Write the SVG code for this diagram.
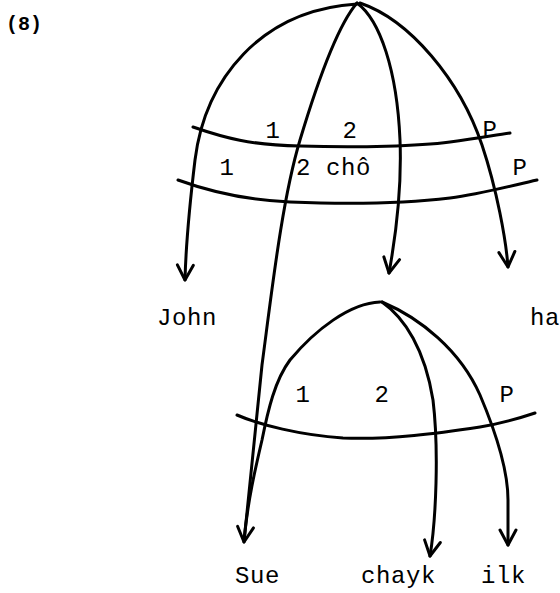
<svg xmlns="http://www.w3.org/2000/svg" width="560" height="593" viewBox="0 0 560 593">
<style>
.c{fill:none;stroke:#000;stroke-width:3;stroke-linecap:round;stroke-linejoin:round}
.t{font-family:"Liberation Mono","DejaVu Sans Mono",monospace;font-size:24px;letter-spacing:0.6px;fill:#000}
.n{font-family:"Liberation Mono","DejaVu Sans Mono",monospace;font-size:20px;font-weight:bold;fill:#000}
</style>
<defs>
<marker id="ah" markerUnits="userSpaceOnUse" viewBox="-16 -10 18 20" refX="0" refY="0" markerWidth="18" markerHeight="20" orient="auto" overflow="visible">
<path d="M-15,-8 L0,0 L-15,8" fill="none" stroke="#000" stroke-width="3" stroke-linecap="round" stroke-linejoin="round"/>
</marker>
</defs>
<rect width="560" height="593" fill="#fff"/>
<text class="n" x="6" y="30">(8)</text>
<g id="connectors">
<path class="c" marker-end="url(#ah)" d="M357,4 C260,10 205,80 195,160 C192,185 186,240 185,280"/>
<path class="c" marker-end="url(#ah)" d="M357,3 C338,25 318,80 300,140 S272,290 262,365 L244,542"/>
<path class="c" marker-end="url(#ah)" d="M357,3 C380,20 397,70 400,140 C402,190 395,240 389,273"/>
<path class="c" marker-end="url(#ah)" d="M360,3 C410,20 460,80 482,145 C497,190 506,240 508,267"/>
<path class="c" d="M193,127 C225,138 250,145 300,146 C360,148 420,146 450,142 C480,138 495,135 510,133"/>
<path class="c" d="M178,180 C200,188 240,200 290,202 C340,204 400,204 450,198 C480,194 510,186 537,180"/>
<path class="c" d="M380,302 C350,303 315,330 290,360 C275,380 268,410 262,440 C255,470 248,500 244,540"/>
<path class="c" marker-end="url(#ah)" d="M382,302 C405,318 425,350 433,400 C439,450 436,520 430,556"/>
<path class="c" marker-end="url(#ah)" d="M382,302 C420,318 460,350 480,395 C497,435 508,470 508,500 L508,545"/>
<path class="c" d="M237,415 C260,425 300,435 343,438 C390,440 440,433 480,427 C505,423 520,418 535,413"/>
</g>
<g id="labels">
<text class="t" x="265.5" y="138">1</text>
<text class="t" x="342.5" y="138">2</text>
<text class="t" x="482.5" y="137">P</text>
<text class="t" x="219.5" y="175">1</text>
<text class="t" x="296" y="175">2 chô</text>
<text class="t" x="512.5" y="175">P</text>
<text class="t" x="295.5" y="402">1</text>
<text class="t" x="374.5" y="402">2</text>
<text class="t" x="499.5" y="402">P</text>
</g>
<g id="node-john"><text class="t" x="157" y="325">John</text></g>
<g id="node-ha"><text class="t" x="530" y="325">ha</text></g>
<g id="node-sue"><text class="t" x="235" y="583">Sue</text></g>
<g id="node-chayk"><text class="t" x="361" y="583">chayk</text></g>
<g id="node-ilk"><text class="t" x="481" y="583">ilk</text></g>
</svg>
